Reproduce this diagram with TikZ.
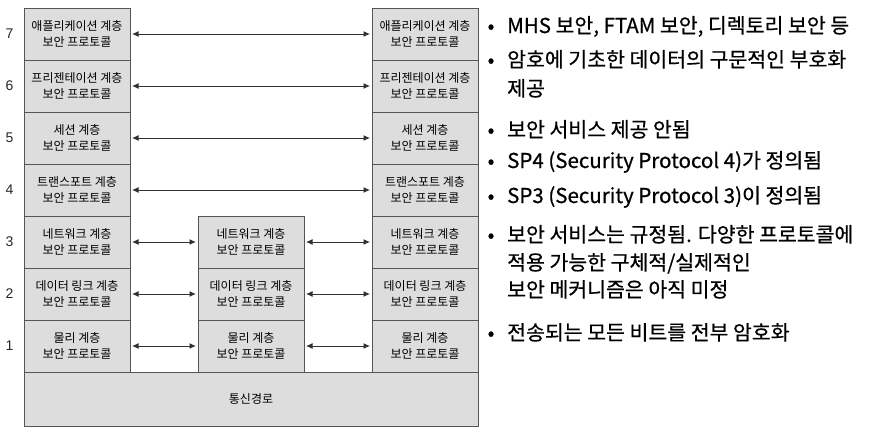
\documentclass[tikz,border=0pt]{standalone}
\usepackage{fontspec}
\setmainfont{Noto Sans CJK KR}
\newfontfamily\numfont{Liberation Sans}
\newfontfamily\notefont[FakeBold=0.6]{Noto Sans CJK KR}
\usetikzlibrary{arrows.meta,positioning}
\definecolor{layerfill}{RGB}{221,221,221}
\definecolor{layerline}{RGB}{85,85,85}
\definecolor{arrowgray}{RGB}{50,50,50}

\begin{document}
\begin{tikzpicture}[
    x=1pt, y=-1pt,
    layer/.style={draw=layerline, fill=layerfill, line width=0.8pt, minimum width=106pt, minimum height=52pt, inner sep=0pt, outer sep=0pt, align=center, font=\fontsize{12}{16.5}\selectfont},
    lnum/.style={font=\numfont\fontsize{14}{15}\selectfont, text=black!85},
    arr/.style={draw=arrowgray, line width=0.9pt, {Latex[length=6.5pt,width=6pt]}-{Latex[length=6.5pt,width=6pt]}, shorten <=2pt, shorten >=2pt},
    bul/.style={anchor=base, font=\notefont\fontsize{20}{22}\selectfont, inner sep=0pt},
    note/.style={anchor=base west, font=\notefont\fontsize{20.5}{27}\selectfont, inner sep=0pt}
  ]
    \useasboundingbox (0,0) rectangle (874,429);

    % left stack
    \node[layer] (L7) at (77,34) {애플리케이션 계층\\보안 프로토콜};
    \node[layer, below=0pt of L7] (L6) {프리젠테이션 계층\\보안 프로토콜};
    \node[layer, below=0pt of L6] (L5) {세션 계층\\보안 프로토콜};
    \node[layer, below=0pt of L5] (L4) {트랜스포트 계층\\보안 프로토콜};
    \node[layer, below=0pt of L4] (L3) {네트워크 계층\\보안 프로토콜};
    \node[layer, below=0pt of L3] (L2) {데이터 링크 계층\\보안 프로토콜};
    \node[layer, below=0pt of L2] (L1) {물리 계층\\보안 프로토콜};

    % middle stack
    \node[layer] (M3) at (251,242) {네트워크 계층\\보안 프로토콜};
    \node[layer, below=0pt of M3] (M2) {데이터 링크 계층\\보안 프로토콜};
    \node[layer, below=0pt of M2] (M1) {물리 계층\\보안 프로토콜};

    % right stack
    \node[layer] (R7) at (425,34) {애플리케이션 계층\\보안 프로토콜};
    \node[layer, below=0pt of R7] (R6) {프리젠테이션 계층\\보안 프로토콜};
    \node[layer, below=0pt of R6] (R5) {세션 계층\\보안 프로토콜};
    \node[layer, below=0pt of R5] (R4) {트랜스포트 계층\\보안 프로토콜};
    \node[layer, below=0pt of R4] (R3) {네트워크 계층\\보안 프로토콜};
    \node[layer, below=0pt of R3] (R2) {데이터 링크 계층\\보안 프로토콜};
    \node[layer, below=0pt of R2] (R1) {물리 계층\\보안 프로토콜};

    % medium
    \node[layer, minimum width=454pt, minimum height=54pt] (path) at (251,399) {통신경로};

    % layer numbers
    \foreach \n in {1,...,7}
      \node[lnum, left=7pt of L\n] (num\n) {\n};

    % peer arrows
    \foreach \n in {4,...,7}
      \draw[arr] (L\n) -- (R\n);
    \foreach \n in {1,2,3} {
      \draw[arr] (L\n) -- (M\n);
      \draw[arr] (M\n) -- (R\n);
    }

    % notes
    \node[bul] (b7) at (491,33) {•};
    \node[note] (t7) at (507,33) {MHS 보안, FTAM 보안, 디렉토리 보안 등};
    \node[bul] (b6) at (491,67) {•};
    \node[note] (t6a) at (507,67) {암호에 기초한 데이터의 구문적인 부호화};
    \node[note] (t6b) at (507,96) {제공};
    \node[bul] (b5) at (491,137) {•};
    \node[note] (t5) at (507,137) {보안 서비스 제공 안됨};
    \node[bul] (b4) at (491,168) {•};
    \node[note] (t4) at (507,168) {SP4 (Security Protocol 4)가 정의됨};
    \node[bul] (b3) at (491,203) {•};
    \node[note] (t3) at (507,203) {SP3 (Security Protocol 3)이 정의됨};
    \node[bul] (b2) at (491,242) {•};
    \node[note] (t2a) at (507,242) {보안 서비스는 규정됨. 다양한 프로토콜에};
    \node[note] (t2b) at (507,270) {적용 가능한 구체적/실제적인};
    \node[note] (t2c) at (507,297) {보안 메커니즘은 아직 미정};
    \node[bul] (b1) at (491,340) {•};
    \node[note] (t1) at (507,340) {전송되는 모든 비트를 전부 암호화};
  \end{tikzpicture}
\end{document}
